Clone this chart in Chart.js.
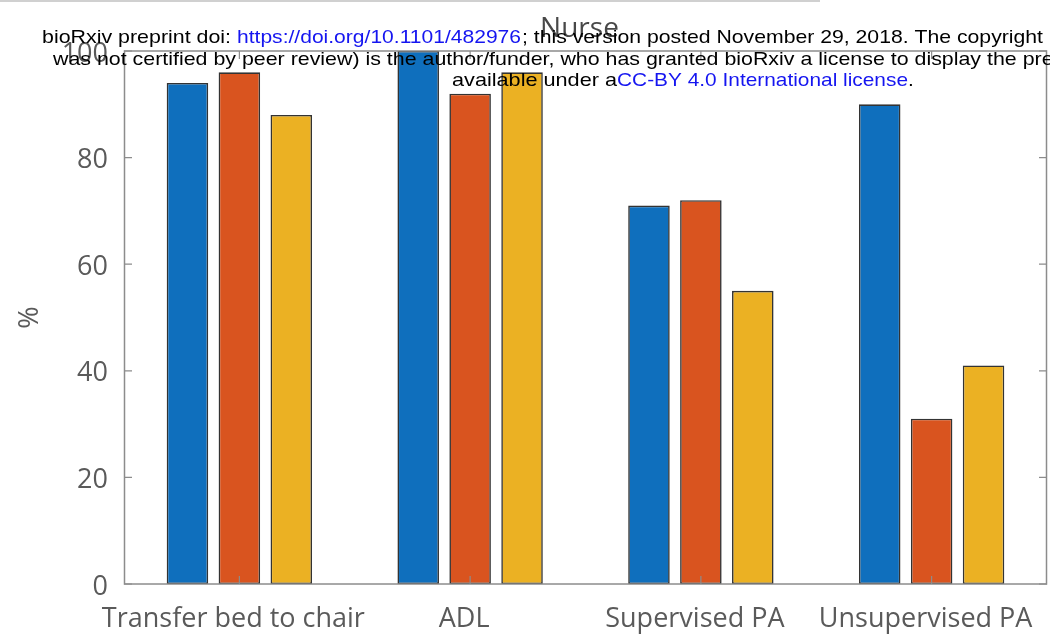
<!DOCTYPE html>
<html><head><meta charset="utf-8">
<script src="https://cdn.jsdelivr.net/npm/chart.js@4.4.0/dist/chart.umd.min.js"></script>
<style>html,body{margin:0;padding:0;background:#fff;} canvas{display:block;}</style>
</head><body>
<canvas id="c" width="1050" height="635"></canvas>
<script>
const categories = ['Transfer bed to chair', 'ADL', 'Supervised PA', 'Unsupervised PA'];
const series1 = [94, 100, 71, 90];
const series2 = [96, 92, 72, 31];
const series3 = [88, 96, 55, 41];
const yTicks = [0, 20, 40, 60, 80, 100];
const chartTitle = 'Nurse';
const yLabel = '%';
const BLUE_LINK = '#1515f0';
const headerLines = [
  {y: 42.5, chunks: [
    {t: 'bioRxiv preprint doi: ', x: 42, w: 195, c: '#000'},
    {t: 'https://doi.org/10.1101/482976', x: 237, w: 284, c: BLUE_LINK},
    {t: '; this version posted November 29, 2018. The copyright', x: 522, w: 521, c: '#000', extra: ' holder for this preprint (which'}
  ]},
  {y: 64.5, chunks: [
    {t: 'was not certified by peer review) is the author/funder, who has granted bioRxiv a license to display ', x: 53, w: 934, c: '#000', extra: 'the preprint in perpetuity. It is made'}
  ]},
  {y: 86, chunks: [
    {t: 'available under a', x: 452, w: 165, c: '#000'},
    {t: 'CC-BY 4.0 International license', x: 617, w: 291, c: BLUE_LINK},
    {t: '.', x: 908, w: null, c: '#000'}
  ]}
];

const AXIS = '#8c8c8c';
const TEXT = '#5a5a5a';
const FONT = "'Open Sans', 'Noto Sans', sans-serif";

const boxPlugin = {
  id: 'box',
  afterDatasetsDraw(chart) {
    const {ctx, chartArea: a, scales} = chart;
    ctx.save();
    ctx.strokeStyle = AXIS;
    ctx.lineWidth = 1.5;
    ctx.strokeRect(a.left + 0.5, a.top, a.right - a.left - 1, a.bottom - a.top);
    ctx.lineWidth = 1.2;
    ctx.beginPath();
    yTicks.forEach(v => {
      const y = scales.y.getPixelForValue(v);
      ctx.moveTo(a.left, y); ctx.lineTo(a.left + 8, y);
      ctx.moveTo(a.right, y); ctx.lineTo(a.right - 8, y);
    });
    categories.forEach((c, i) => {
      const x = scales.x.getPixelForValue(i);
      ctx.moveTo(x, a.bottom); ctx.lineTo(x, a.bottom - 8);
      ctx.moveTo(x, a.top); ctx.lineTo(x, a.top + 8);
    });
    ctx.stroke();
    ctx.restore();
  },
  afterDraw(chart) {
    const {ctx, chartArea: a} = chart;
    ctx.save();
    ctx.fillStyle = '#484848';
    ctx.font = "28px " + FONT;
    ctx.textAlign = 'center';
    ctx.textBaseline = 'alphabetic';
    ctx.fillText(chartTitle, (a.left + a.right) / 2 - 6, 37);
    ctx.font = "19px 'Liberation Sans', Arial, sans-serif";
    ctx.textAlign = 'left';
    headerLines.forEach(line => {
      let sx = 1.15;
      line.chunks.forEach(ch => {
        const m = ctx.measureText(ch.t).width;
        if (ch.w) sx = ch.w / m;
        ctx.save();
        ctx.translate(ch.x, line.y);
        ctx.scale(sx, 1);
        ctx.fillStyle = ch.c;
        ctx.fillText(ch.t + (ch.extra || ''), 0, 0);
        ctx.restore();
      });
    });
    ctx.fillStyle = '#d0d0d0';
    ctx.fillRect(0, 0, 820, 2);
    ctx.restore();
  }
};

new Chart(document.getElementById('c'), {
  type: 'bar',
  data: {
    labels: categories,
    datasets: [
      {data: series1, backgroundColor: '#0f6fbd'},
      {data: series2, backgroundColor: '#d9541f'},
      {data: series3, backgroundColor: '#ebb123'}
    ].map(d => Object.assign(d, {borderColor: '#333333', borderWidth: 1.6, borderSkipped: false, categoryPercentage: 0.675, barPercentage: 0.8}))
  },
  options: {
    responsive: false,
    animation: false,
    devicePixelRatio: 1,
    layout: {padding: {top: 51, right: 3, bottom: 0, left: 0}},
    plugins: {legend: {display: false}, tooltip: {enabled: false}, title: {display: false}},
    scales: {
      x: {
        offset: true,
        grid: {display: false, drawTicks: false},
        border: {display: false},
        ticks: {color: TEXT, font: {family: FONT, size: 27}, padding: 19, labelOffset: -6, maxRotation: 0, autoSkip: false},
        afterFit(s) { s.height = 51; s.paddingLeft = 0; s.paddingRight = 0; }
      },
      y: {
        min: 0, max: 100,
        grid: {display: false, drawTicks: false},
        border: {display: false},
        afterBuildTicks(s) { s.ticks = yTicks.map(v => ({value: v})); },
        ticks: {color: TEXT, font: {family: FONT, size: 27}, padding: 16, labelOffset: 3},
        title: {display: true, text: yLabel, color: TEXT, font: {family: FONT, size: 27}, padding: {top: 14, bottom: 0}},
        afterFit(s) { s.width = 124; s.paddingTop = 0; s.paddingBottom = 0; }
      }
    }
  },
  plugins: [boxPlugin]
});
</script>
</body></html>
